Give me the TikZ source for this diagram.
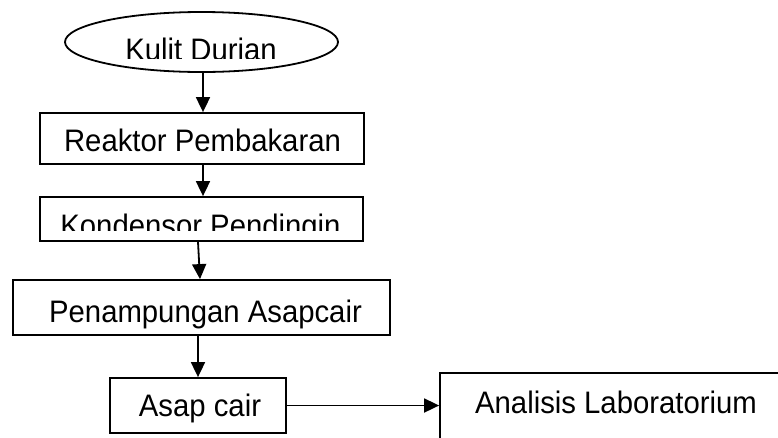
\documentclass[tikz,border=0pt]{standalone}
\usepackage{fontspec}
\setmainfont{Liberation Sans}
\usetikzlibrary{arrows.meta,shapes.geometric}
\newcommand{\vsc}[1]{\scalebox{1}[1.06]{#1}}
\begin{document}
\begin{tikzpicture}[x=1pt,y=-1pt,
  lw/.style={line width=1.8pt},
  boxn/.style={draw,lw,rectangle,inner sep=0pt},
  ovaln/.style={draw,lw,ellipse,inner sep=0pt},
  txt/.style={anchor=base,inner sep=0pt,font=\fontsize{29.3}{30}\selectfont},
  arr/.style={lw,-{Triangle[length=15pt,width=14pt]}}]
\useasboundingbox (0,0) rectangle (778,437);
\clip (0,0) rectangle (778,437);
% shapes
\node[ovaln,minimum width=273pt,minimum height=60pt] (kulit) at (201.5,42) {};
\node[boxn,minimum width=324pt,minimum height=51pt] (reaktor) at (202,138.5) {};
\node[boxn,minimum width=323pt,minimum height=44pt] (kondensor) at (201.5,219) {};
\node[boxn,minimum width=377pt,minimum height=55pt] (penamp) at (201.5,307.5) {};
\node[boxn,minimum width=176pt,minimum height=55pt] (asap) at (198,405.5) {};
\node[boxn,minimum width=352pt,minimum height=80pt] (analisis) at (616,413) {};
% texts
\begin{scope}
\clip (60,20) rectangle (340,58);
\node[txt] (tkulit) at (201,60) {\vsc{Kulit Durian}};
\end{scope}
\node[txt] (treaktor) at (202.5,151.5) {\vsc{Reaktor Pembakaran}};
\begin{scope}
\clip (45,200) rectangle (358,230.5);
\node[txt] (tkondensor) at (200.5,236) {\vsc{Kondensor Pendingin}};
\end{scope}
\node[txt] (tpenamp) at (205.5,322) {\vsc{Penampungan Asapcair}};
\node[txt] (tasap) at (200,416) {\vsc{Asap cair}};
\node[txt] (tanalisis) at (616,413) {\vsc{Analisis Laboratorium}};
% connectors
\draw[arr] ([xshift=1.5pt]kulit.south) -- ([xshift=1.5pt]kulit.south |- reaktor.north);
\draw[arr] ([xshift=1pt]reaktor.south) -- ([xshift=1pt]reaktor.south |- kondensor.north);
\draw[arr] ([xshift=-3.5pt]kondensor.south) -- ([xshift=-1.5pt]penamp.north);
\draw[arr] (asap.north |- penamp.south) -- (asap.north);
\draw[arr] (asap.east) -- (asap.east -| analisis.west);
\end{tikzpicture}
\end{document}
